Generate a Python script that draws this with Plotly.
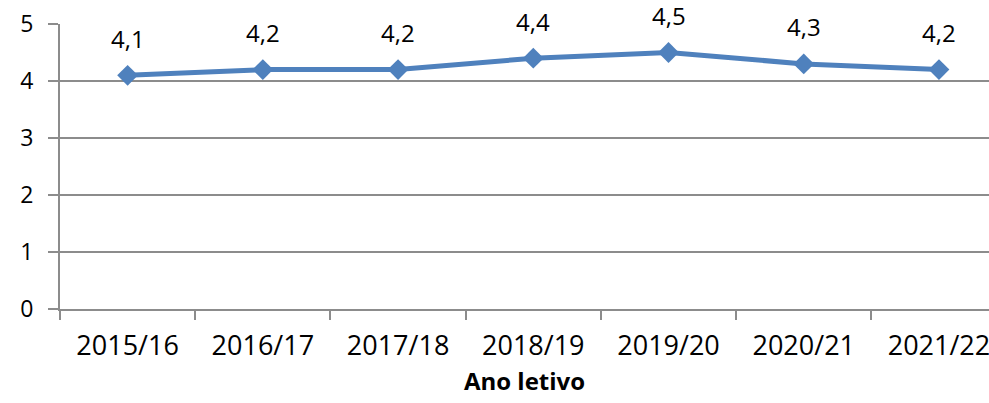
import plotly.graph_objects as go

anos = ['2015/16', '2016/17', '2017/18', '2018/19', '2019/20', '2020/21', '2021/22']
valores = [4.1, 4.2, 4.2, 4.4, 4.5, 4.3, 4.2]

AZUL = '#4F81BD'
CINZA = '#8C8C8C'

fig = go.Figure()
fig.add_trace(
    go.Scatter(
        x=anos,
        y=valores,
        mode='lines+markers',
        line=dict(color=AZUL, width=5),
        marker=dict(symbol='diamond', size=16, color=AZUL),
        showlegend=False,
        cliponaxis=False
    )
)

# data labels above each point
for a, v in zip(anos, valores):
    fig.add_annotation(
        x=a, y=v,
        text=f'{v:.1f}'.replace('.', ','),
        showarrow=False,
        yshift=37,
        font=dict(family='Open Sans', size=24, color='#000000')
    )

fig.update_xaxes(
    type='category',
    range=[-0.5, 6.37],
    automargin=False,
    showgrid=False,
    showline=True, linecolor=CINZA, linewidth=2,
    ticks='outside', tickson='boundaries', ticklen=9, tickcolor=CINZA, tickwidth=2,
    ticklabelstandoff=12,
    ticklabeloverflow='allow',
    tickfont=dict(family='Open Sans', size=27, color='#000000'),
    title=dict(text='<b>Ano letivo</b>', standoff=11,
               font=dict(family='Open Sans', size=24, color='#000000'))
)
fig.update_yaxes(
    range=[0, 5],
    tickvals=[0, 1, 2, 3, 4, 5],
    automargin=False,
    showgrid=True, gridcolor=CINZA, gridwidth=2,
    showline=True, linecolor=CINZA, linewidth=2,
    ticks='outside', ticklen=10, tickcolor=CINZA, tickwidth=2,
    ticklabelstandoff=10,
    ticklabeloverflow='allow',
    tickfont=dict(family='Open Sans', size=23, color='#000000'),
    zeroline=False
)

fig.update_layout(
    width=989, height=403,
    margin=dict(l=60, r=0, t=24, b=94),
    plot_bgcolor='white',
    paper_bgcolor='white'
)

# drop the default page margin so the figure fills the window
fig.write_html('out.html', config={'displayModeBar': False},
               post_script="document.body.style.margin='0px';")
